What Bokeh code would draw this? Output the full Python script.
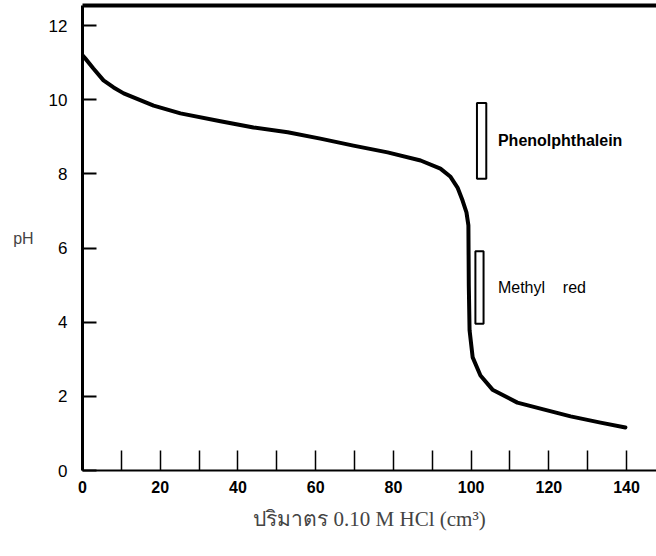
from bokeh.plotting import figure
from bokeh.models import LinearAxis, FixedTicker, Range1d, ColumnDataSource
from bokeh.core.properties import value
from bokeh.embed import file_html
from bokeh.resources import INLINE

# Titration curve: volume of 0.10 M HCl (cm3) vs pH
volume = [0, 0.8, 2.8, 5.4, 8.0, 10.6, 18.3, 25.2, 35.5, 44.0, 52.8, 61.2, 69.7,
          78.5, 87.0, 92.1, 94.7, 96.5, 97.8, 98.8, 99.3, 99.4, 99.6, 100.4,
          102.4, 105.5, 111.9, 118.6, 125.6, 133.3, 139.7]
ph = [11.2, 11.1, 10.84, 10.52, 10.33, 10.17, 9.84, 9.63, 9.42, 9.25, 9.12, 8.95,
      8.76, 8.58, 8.36, 8.14, 7.92, 7.63, 7.28, 6.96, 6.61, 5.0, 3.78, 3.05,
      2.56, 2.18, 1.83, 1.65, 1.46, 1.29, 1.16]

# Indicator ranges
indicator_names = ["Phenolphthalein", "Methyl\u00a0\u00a0\u00a0\u00a0red"]
indicator_low = [7.87, 3.96]
indicator_high = [9.91, 5.91]
indicator_left = [101.5, 101.1]
indicator_right = [103.9, 103.2]
indicator_weight = ["bold", "normal"]

x_ticks = list(range(0, 141, 10))
x_tick_labels = {t: (str(t) if t % 20 == 0 else "") for t in x_ticks}
y_ticks = [0, 2, 4, 6, 8, 10, 12]

p = figure(width=656, height=556, output_backend="svg", toolbar_location=None,
           x_range=Range1d(0, 147.7), y_range=Range1d(0, 12.54),
           min_border_left=82, min_border_right=0, min_border_top=5,
           min_border_bottom=86)
p.outline_line_color = None
p.grid.grid_line_color = None
p.background_fill_color = "white"

# x axis
xa = p.xaxis[0]
xa.ticker = FixedTicker(ticks=x_ticks)
xa.major_label_overrides = x_tick_labels
xa.major_tick_in = 20
xa.major_tick_out = 0
xa.minor_tick_line_color = None
xa.major_tick_line_width = 1.5
xa.axis_line_width = 2
xa.major_label_standoff = 10
xa.major_label_text_font = "Liberation Sans Narrow, Liberation Sans"
xa.major_label_text_font_style = "bold"
xa.major_label_text_font_size = "16px"
xa.major_label_text_color = "black"
xa.axis_label = "ปริมาตร 0.10 M HCl (cm³)"
xa.axis_label_text_font = "Liberation Serif"
xa.axis_label_text_font_style = "normal"
xa.axis_label_text_font_size = "21px"
xa.axis_label_standoff = 11

# y axis
ya = p.yaxis[0]
ya.ticker = FixedTicker(ticks=y_ticks)
ya.major_tick_in = 14
ya.major_tick_out = 0
ya.minor_tick_line_color = None
ya.major_tick_line_width = 2
ya.axis_line_width = 3
ya.major_label_standoff = 15
ya.major_label_text_font = "Liberation Sans"
ya.major_label_text_font_size = "17px"
ya.major_label_text_color = "black"
ya.axis_label = "pH"
ya.axis_label_orientation = "horizontal"
ya.axis_label_text_font = "Liberation Sans"
ya.axis_label_text_font_style = "normal"
ya.axis_label_text_font_size = "16px"
ya.axis_label_standoff = 12

# top border line
top = LinearAxis(ticker=FixedTicker(ticks=[]), axis_line_width=4,
                 major_tick_line_color=None, minor_tick_line_color=None,
                 major_label_standoff=0, major_tick_out=0, minor_tick_out=0,
                 major_label_text_font_size="0px")
p.add_layout(top, "above")

# curve
p.line(volume, ph, line_width=4, line_color="black", line_join="round",
       line_cap="round")

# indicator bars
p.quad(left=indicator_left, right=indicator_right, bottom=indicator_low,
       top=indicator_high, fill_color="white", line_color="black", line_width=2)

label_x = max(indicator_right) + 3
src = ColumnDataSource(dict(
    x=[label_x] * len(indicator_names),
    y=[(lo + hi) / 2 for lo, hi in zip(indicator_low, indicator_high)],
    t=indicator_names,
    w=indicator_weight))
p.text(x="x", y="y", text="t", source=src, text_font=value("Liberation Sans"),
       text_font_size="16px", text_font_style="w", text_align="left",
       text_baseline="middle", text_color="black")

open("out.html", "w").write(file_html(p, INLINE))
